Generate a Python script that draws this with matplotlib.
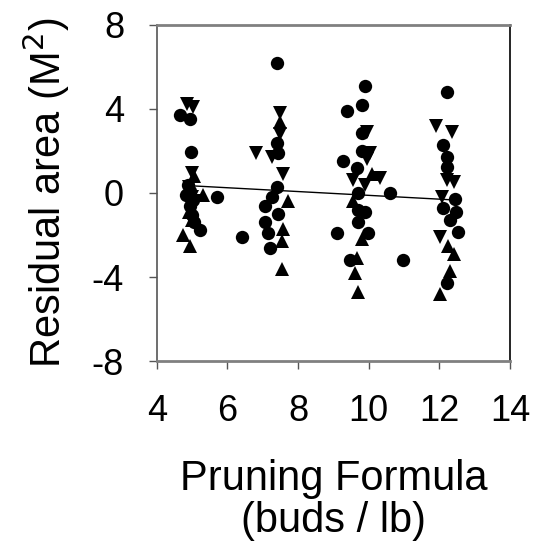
import matplotlib
matplotlib.use("Agg")
import matplotlib.pyplot as plt

plt.rcParams["font.family"] = ["Liberation Sans", "DejaVu Sans"]
plt.rcParams["axes.unicode_minus"] = False

# residuals, one list per marker type
circle_x = [4.66, 4.94, 4.97, 5.71, 5.23, 4.89, 4.83, 4.94, 5.00, 5.06, 6.42,
            4.95, 5.02,
            7.41, 7.41, 7.44, 7.41, 7.27, 7.07, 7.44, 7.07, 7.15, 7.21,
            9.90, 9.81, 9.39, 9.81, 9.81, 9.28, 9.67, 10.61, 9.70, 9.70, 9.90,
            9.70, 9.11, 9.99, 9.47, 10.98,
            12.21, 12.10, 12.21, 12.21, 12.45, 12.10, 12.48, 12.29, 12.54, 12.21]
circle_y = [3.7, 3.5, 1.95, -0.2, -1.75, 0.4, -0.1, -0.6, -1.05, -1.4, -2.1,
            0.1, -0.35,
            6.2, 2.4, 1.9, 0.3, -0.2, -0.6, -1.0, -1.4, -1.9, -2.6,
            5.1, 4.2, 3.9, 2.85, 2.0, 1.5, 1.2, 0.0, 0.0, -0.8, -0.9,
            -1.4, -1.9, -1.9, -3.2, -3.2,
            4.8, 2.3, 1.7, 1.25, -0.3, -0.7, -0.9, -1.3, -1.85, -4.3]

down_x = [4.86, 5.03, 5.00, 4.90, 5.10, 5.00,
          7.49, 7.49, 6.81, 7.27, 7.58,
          9.96, 10.04, 9.96, 10.33, 9.56, 9.90,
          11.91, 12.37, 12.21, 12.42, 12.07, 12.02]
down_y = [4.25, 4.1, 0.95, 0.3, -0.4, -0.2,
          3.8, 2.8, 1.9, 1.7, 0.9,
          2.9, 1.9, 1.6, 0.7, 0.6, 0.4,
          3.2, 2.9, 0.6, 0.5, -0.2, -2.1]

up_x = [5.31, 4.74, 4.94, 4.90, 5.00, 5.05,
        7.49, 7.72, 7.58, 7.55, 7.55,
        10.10, 9.56, 9.81, 9.67, 9.62, 9.70,
        12.24, 12.42, 12.29, 12.02]
up_y = [-0.1, -2.0, -2.5, -0.9, -1.3, 0.8,
        3.4, -0.4, -1.7, -2.3, -3.6,
        0.9, -0.4, -2.2, -3.1, -3.8, -4.7,
        -2.5, -2.9, -3.7, -4.8]

# fitted regression line, end points as drawn
fit_x = [4.9, 12.4]
fit_y = [0.35, -0.33]

fig = plt.figure(figsize=(5.33, 5.5), dpi=100)
ax = fig.add_axes([0.294, 0.3436, 0.663, 0.611])

ax.plot(fit_x, fit_y, color="black", lw=1, zorder=2)
ax.plot(circle_x, circle_y, "o", color="black", ms=9.6, mew=0, zorder=3)
ax.plot(down_x, down_y, "v", color="black", ms=10.5, mew=0, zorder=3)
ax.plot(up_x, up_y, "^", color="black", ms=10.5, mew=0, zorder=3)

ax.set_xlim(4, 14)
ax.set_ylim(-8, 8)
ax.set_xticks([4, 6, 8, 10, 12, 14])
ax.set_yticks([-8, -4, 0, 4, 8])
ax.tick_params(labelsize=26, length=5.5, width=1, color="#555555", pad=18)

for side in ("top", "bottom"):
    ax.spines[side].set_color("#808080")
    ax.spines[side].set_linewidth(2)
ax.spines["left"].set_color("#555555")
ax.spines["left"].set_linewidth(1.2)
ax.spines["right"].set_color("black")
ax.spines["right"].set_linewidth(1.2)

ax.set_ylabel("Residual area (M$^2$)", fontsize=30, labelpad=14)
ax.set_xlabel("Pruning Formula\n(buds / lb)", fontsize=30, labelpad=22,
              linespacing=1.05)

fig.savefig("out.png", dpi=100)
